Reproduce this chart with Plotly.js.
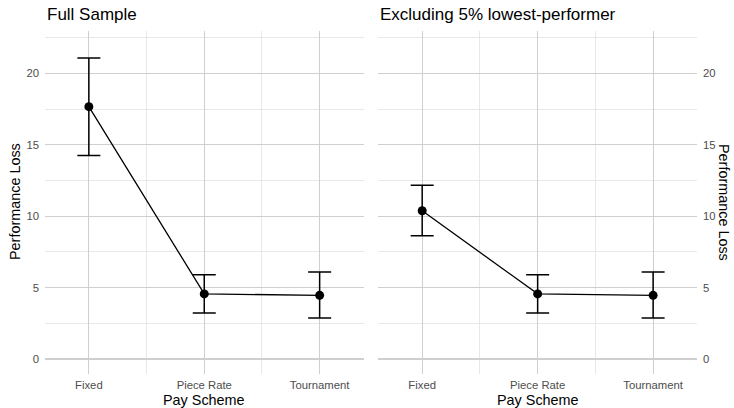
<!DOCTYPE html>
<html>
<head>
<meta charset="utf-8">
<script src="https://cdn.plot.ly/plotly-3.0.1.min.js"></script>
<style>html,body{margin:0;padding:0;background:#fff;}#chart{width:734px;height:408px;}</style>
</head>
<body>
<div id="chart"></div>
<script>
const categories = ["Fixed", "Piece Rate", "Tournament"];
const panelTitles = ["Full Sample", "Excluding 5% lowest-performer"];
const fullMean = [17.67, 4.56, 4.46];
const fullLower = [14.26, 3.22, 2.87];
const fullUpper = [21.08, 5.90, 6.09];
const exclMean = [10.38, 4.56, 4.46];
const exclLower = [8.63, 3.22, 2.87];
const exclUpper = [12.16, 5.90, 6.09];
const yTicks = [0, 5, 10, 15, 20];
const yMinor = [2.5, 7.5, 12.5, 17.5, 22.5];
const xMinor = [1.5, 2.5];

const xPos = categories.map((c, i) => i + 1);
const FONT = "Liberation Sans, Arial, sans-serif";

function trace(mean, lower, upper, xa, ya) {
  return {
    x: xPos, y: mean, xaxis: xa, yaxis: ya,
    type: "scatter", mode: "lines+markers",
    line: {color: "#000", width: 1.3},
    marker: {color: "#000", size: 9},
    error_y: {
      type: "data", symmetric: false,
      array: upper.map((u, i) => u - mean[i]),
      arrayminus: lower.map((l, i) => mean[i] - l),
      color: "#000", thickness: 1.5, width: 11.5
    },
    hoverinfo: "skip", showlegend: false
  };
}

const xBase = {
  range: [0.62, 3.38], tickmode: "array", tickvals: xPos, ticktext: categories,
  showgrid: true, gridcolor: "#cfcfcf", gridwidth: 1.2,
  minor: {tickmode: "array", tickvals: xMinor, showgrid: true, gridcolor: "#e6e6e6", gridwidth: 0.9},
  zeroline: false, showline: false, ticks: "", ticklabelstandoff: 3,
  tickfont: {family: FONT, size: 11.3, color: "#4d4d4d"},
  fixedrange: true, anchor: "y"
};
const yBase = {
  range: [-1.05, 22.97], tickmode: "array", tickvals: yTicks,
  showgrid: true, gridcolor: "#cfcfcf", gridwidth: 1.2,
  minor: {tickmode: "array", tickvals: yMinor, showgrid: true, gridcolor: "#e6e6e6", gridwidth: 0.9},
  zeroline: false, showline: false, ticks: "", ticklabelstandoff: 5,
  tickfont: {family: FONT, size: 11.3, color: "#4d4d4d"},
  fixedrange: true, domain: [34/408, 377/408]
};

const layout = {
  width: 734, height: 408,
  margin: {l: 0, r: 0, t: 0, b: 0},
  paper_bgcolor: "#fff", plot_bgcolor: "#fff",
  xaxis: Object.assign({}, xBase, {domain: [45/734, 363.5/734], anchor: "y"}),
  xaxis2: Object.assign({}, xBase, {domain: [378.3/734, 697/734], anchor: "y2"}),
  yaxis: Object.assign({}, yBase, {anchor: "x", side: "left"}),
  yaxis2: Object.assign({}, yBase, {anchor: "x2", side: "right"}),
  annotations: [
    {text: panelTitles[0], xref: "paper", yref: "paper", x: 45/734, y: 1 - 15/408, xanchor: "left", yanchor: "middle", showarrow: false, font: {family: FONT, size: 17, color: "#000"}},
    {text: panelTitles[1], xref: "paper", yref: "paper", x: 378/734, y: 1 - 15/408, xanchor: "left", yanchor: "middle", showarrow: false, font: {family: FONT, size: 17, color: "#000"}},
    {text: "Pay Scheme", xref: "paper", yref: "paper", x: 204.3/734, y: 1 - 399.5/408, xanchor: "center", yanchor: "middle", showarrow: false, font: {family: FONT, size: 14.4, color: "#000"}},
    {text: "Pay Scheme", xref: "paper", yref: "paper", x: 537.5/734, y: 1 - 399.5/408, xanchor: "center", yanchor: "middle", showarrow: false, font: {family: FONT, size: 14.4, color: "#000"}},
    {text: "Performance Loss", xref: "paper", yref: "paper", x: 15/734, y: 1 - 202/408, xanchor: "center", yanchor: "middle", textangle: -90, showarrow: false, font: {family: FONT, size: 14.4, color: "#000"}},
    {text: "Performance Loss", xref: "paper", yref: "paper", x: 724/734, y: 1 - 202/408, xanchor: "center", yanchor: "middle", textangle: 90, showarrow: false, font: {family: FONT, size: 14.4, color: "#000"}}
  ]
};

Plotly.newPlot("chart", [
  trace(fullMean, fullLower, fullUpper, "x", "y"),
  trace(exclMean, exclLower, exclUpper, "x2", "y2")
], layout, {displayModeBar: false, staticPlot: true});
</script>
</body>
</html>
